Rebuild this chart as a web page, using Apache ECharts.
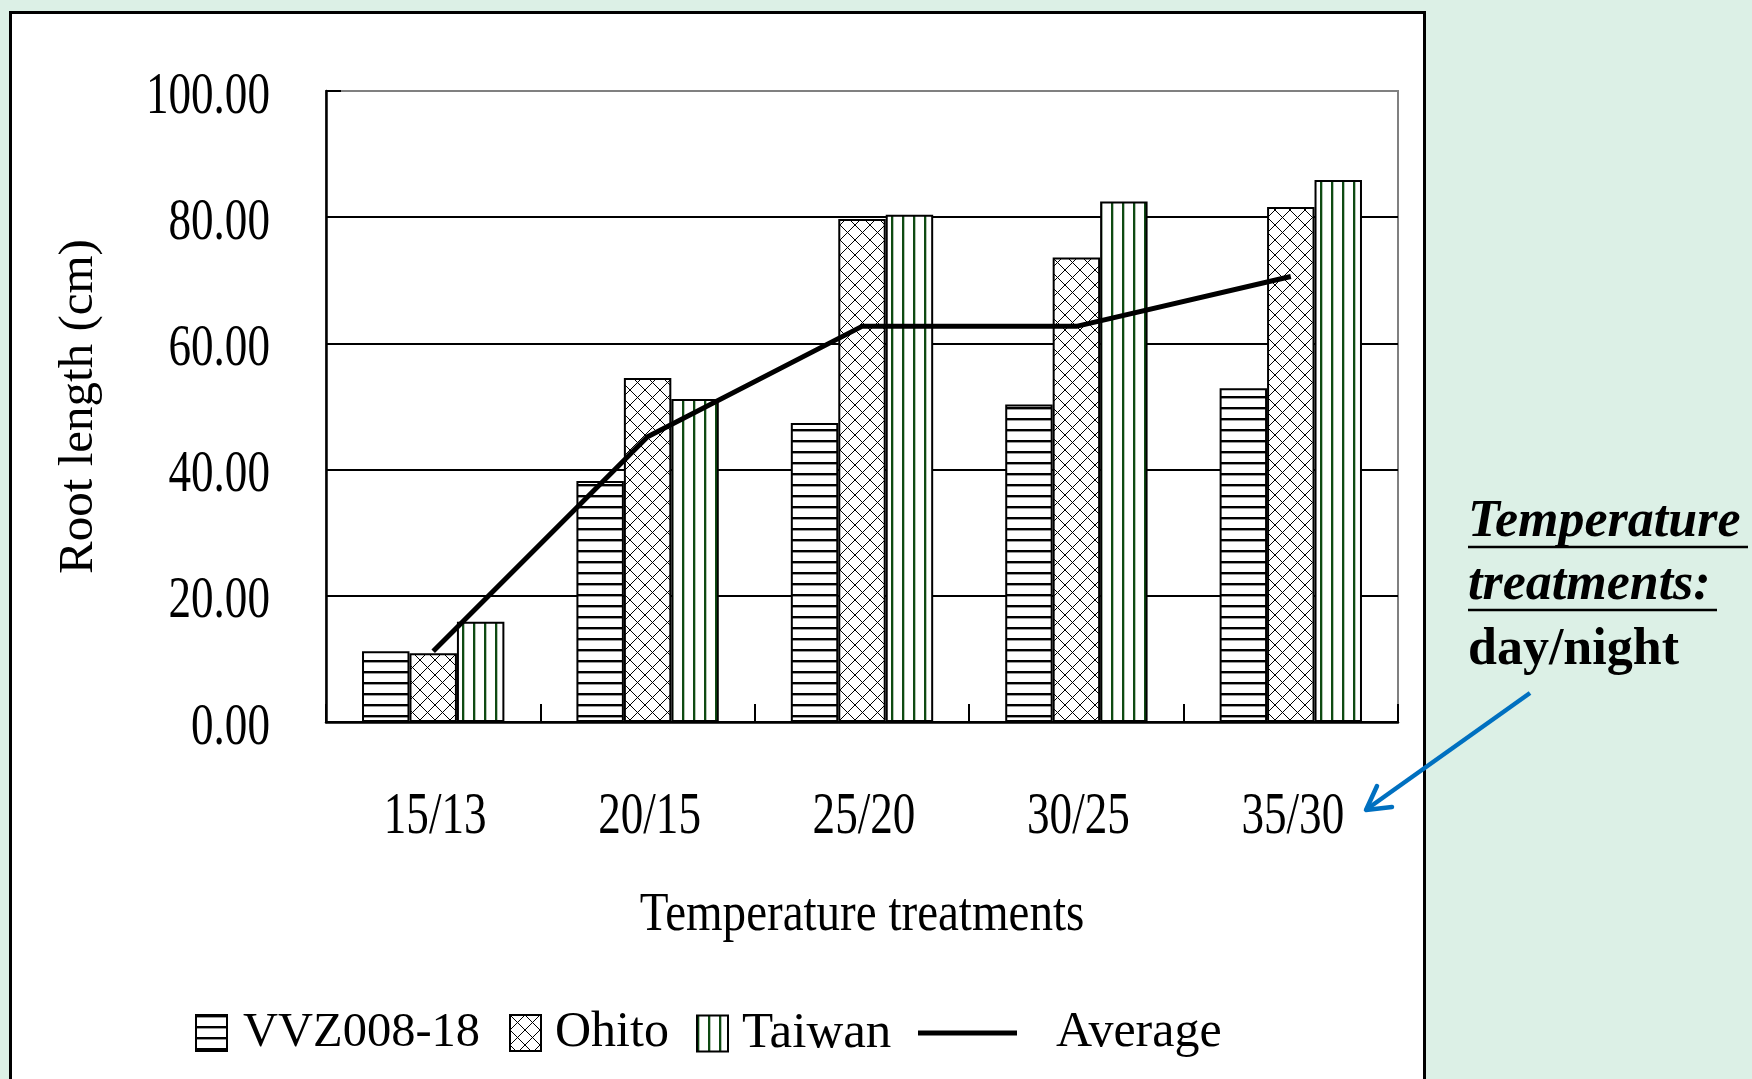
<!DOCTYPE html>
<html><head><meta charset="utf-8">
<script src="https://cdn.jsdelivr.net/npm/echarts@6/dist/echarts.min.js"></script>
<style>
html,body{margin:0;padding:0;background:#dcf0e6;overflow:hidden;}
#frame{position:absolute;left:9px;top:11px;width:1417px;height:1200px;background:#fff;border:3px solid #000;box-sizing:border-box;}
#chart{position:absolute;left:0;top:0;width:1752px;height:1079px;}
</style></head><body>
<div id="frame"></div><div id="chart"></div>
<script>
// ---- data ----
const categories = ['15/13', '20/15', '25/20', '30/25', '35/30'];
const vvz = [11.2, 38.2, 47.4, 50.3, 52.9];
const ohito = [10.9, 54.5, 79.7, 73.6, 81.6];
const taiwan = [15.9, 51.2, 80.4, 82.5, 85.9];
const average = [11.2, 45.2, 62.7, 62.7, 70.6];
const seriesNames = ['VVZ008-18', 'Ohito', 'Taiwan', 'Average'];
const yTicks = [0, 20, 40, 60, 80, 100];
const yTickLabels = ['0.00', '20.00', '40.00', '60.00', '80.00', '100.00'];
const yAxisName = 'Root length (cm)';
const xAxisName = 'Temperature treatments';
const noteLines = ['Temperature', 'treatments:', 'day/night'];

// ---- patterns ----
function makeTile(w, h, draw) {
  const c = document.createElement('canvas');
  c.width = w; c.height = h;
  const g = c.getContext('2d');
  g.fillStyle = '#fff'; g.fillRect(0, 0, w, h);
  draw(g);
  return { image: c, repeat: 'repeat' };
}
const hPattern = makeTile(8, 11, g => {
  g.fillStyle = '#000'; g.fillRect(0, 0, 8, 2);
  g.fillStyle = '#9a9a9a'; g.fillRect(0, 2, 8, 1);
});
const vPattern = makeTile(11, 8, g => {
  g.fillStyle = '#0e4a12'; g.fillRect(0, 0, 2, 8);
  g.fillStyle = '#b5c5b5'; g.fillRect(2, 0, 1, 8);
});
const xPattern = makeTile(15, 15, g => {
  g.strokeStyle = '#000'; g.lineWidth = 1;
  g.beginPath();
  for (const k of [-15, 0, 15]) {
    g.moveTo(k, 0); g.lineTo(k + 15, 15);
    g.moveTo(k + 15, 0); g.lineTo(k, 15);
  }
  g.stroke();
});

const FONT = 'Liberation Serif';
const chart = echarts.init(document.getElementById('chart'), null, { renderer: 'canvas' });

const barCommon = { type: 'bar', barGap: '0%', barCategoryGap: '33.6%' };
function legendFor(name, left, pad, fs, extra) {
  return Object.assign({
    data: [name], left: left, top: 1008, padding: 0, icon: 'rect',
    itemWidth: 31, itemHeight: 36, selectedMode: false,
    itemStyle: { borderColor: '#000', borderWidth: 2 },
    textStyle: { fontFamily: FONT, fontSize: fs, color: '#000', lineHeight: 50, padding: [0, 0, 0, pad] }
  }, extra || {});
}

const option = {
  animation: false,
  backgroundColor: 'transparent',
  grid: { left: 326, right: 354, top: 91, bottom: 357, containLabel: false, outerBoundsMode: 'none',
          show: true, borderColor: '#808080', borderWidth: 2, backgroundColor: 'transparent' },
  legend: [
    legendFor(seriesNames[0], 195, 11, 48.5),
    legendFor(seriesNames[1], 509, 9, 50),
    legendFor(seriesNames[2], 696, 9, 51),
    legendFor(seriesNames[3], 918, 34, 50, { itemWidth: 99, itemHeight: 5, itemStyle: { color: '#000', borderWidth: 0 } })
  ],
  xAxis: {
    type: 'category', data: categories, boundaryGap: true,
    axisLine: { show: true, lineStyle: { color: '#000', width: 2.5 } },
    axisTick: { show: true, inside: true, length: 18, alignWithLabel: false, lineStyle: { color: '#000', width: 2 } },
    axisLabel: { show: false },
    splitLine: { show: false }
  },
  yAxis: {
    type: 'value', min: 0, max: 100, interval: 20,
    axisLine: { show: true, lineStyle: { color: '#000', width: 2.5 } },
    axisTick: { show: true, inside: true, length: 15, lineStyle: { color: '#000', width: 2 } },
    axisLabel: { show: false },
    splitLine: { show: true, lineStyle: { color: ['#000', '#000', '#000', '#000', '#000', '#808080'], width: 2 } },
    name: yAxisName, nameLocation: 'middle', nameGap: 222, nameRotate: 90,
    nameTextStyle: { fontFamily: FONT, fontSize: 49, color: '#000' }
  },
  series: [
    Object.assign({}, barCommon, { name: seriesNames[0], data: vvz, itemStyle: { color: hPattern, borderColor: '#000', borderWidth: 2 } }),
    Object.assign({}, barCommon, { name: seriesNames[1], data: ohito, itemStyle: { color: xPattern, borderColor: '#000', borderWidth: 2 } }),
    Object.assign({}, barCommon, { name: seriesNames[2], data: taiwan, itemStyle: { color: vPattern, borderColor: '#000', borderWidth: 2 } }),
    { type: 'line', name: seriesNames[3], data: average, symbol: 'none', z: 5,
      lineStyle: { color: '#000', width: 5 }, itemStyle: { color: '#000' } }
  ]
};
chart.setOption(option);

// ---- condensed serif texts positioned through the axes' own scales ----
const catPx = categories.map(c => chart.convertToPixel({ xAxisIndex: 0 }, c));
const band = catPx[1] - catPx[0];
const axisLeft = catPx[0] - band / 2;
const axisBottom = chart.convertToPixel({ yAxisIndex: 0 }, 0);
const TICK_FS = 59, TICK_SX = 0.765;
const graphics = [];
yTicks.forEach((v, i) => {
  graphics.push({ type: 'text', x: axisLeft - 56, y: chart.convertToPixel({ yAxisIndex: 0 }, v) + 6, scaleX: TICK_SX, z: 10,
    style: { text: yTickLabels[i], fontFamily: FONT, fontSize: TICK_FS, fill: '#000', align: 'right', verticalAlign: 'middle' } });
});
categories.forEach((c, i) => {
  graphics.push({ type: 'text', x: catPx[i] + 2, y: axisBottom + 95, scaleX: TICK_SX, z: 10,
    style: { text: c, fontFamily: FONT, fontSize: TICK_FS, fill: '#000', align: 'center', verticalAlign: 'middle' } });
});
graphics.push({ type: 'text', x: (catPx[0] + catPx[catPx.length - 1]) / 2, y: axisBottom + 194, scaleX: 0.855, z: 10,
  style: { text: xAxisName, fontFamily: FONT, fontSize: 55, fill: '#000', align: 'center', verticalAlign: 'middle' } });

// annotation on the right
const NOTE = { fontFamily: FONT, fontSize: 52, fontWeight: 'bold', fill: '#000', verticalAlign: 'middle' };
graphics.push(
  { type: 'text', x: 1468, y: 523, z: 10, style: Object.assign({ text: noteLines[0], fontStyle: 'italic' }, NOTE) },
  { type: 'text', x: 1468, y: 586, z: 10, style: Object.assign({ text: noteLines[1], fontStyle: 'italic' }, NOTE) },
  { type: 'text', x: 1468, y: 651, z: 10, style: Object.assign({ text: noteLines[2] }, NOTE) },
  { type: 'line', z: 10, shape: { x1: 1468, y1: 547, x2: 1748, y2: 547 }, style: { stroke: '#000', lineWidth: 2.5 } },
  { type: 'line', z: 10, shape: { x1: 1468, y1: 610, x2: 1717, y2: 610 }, style: { stroke: '#000', lineWidth: 2.5 } },
  { type: 'line', z: 10, shape: { x1: 1530, y1: 693, x2: 1367, y2: 809 }, style: { stroke: '#0070c0', lineWidth: 4.5 } },
  { type: 'polyline', z: 10, shape: { points: [[1377, 786], [1366, 810], [1392, 807]] }, style: { stroke: '#0070c0', lineWidth: 4.5, fill: null, lineJoin: 'round', lineCap: 'round' } }
);
chart.setOption({ graphic: graphics });
</script>
</body></html>
